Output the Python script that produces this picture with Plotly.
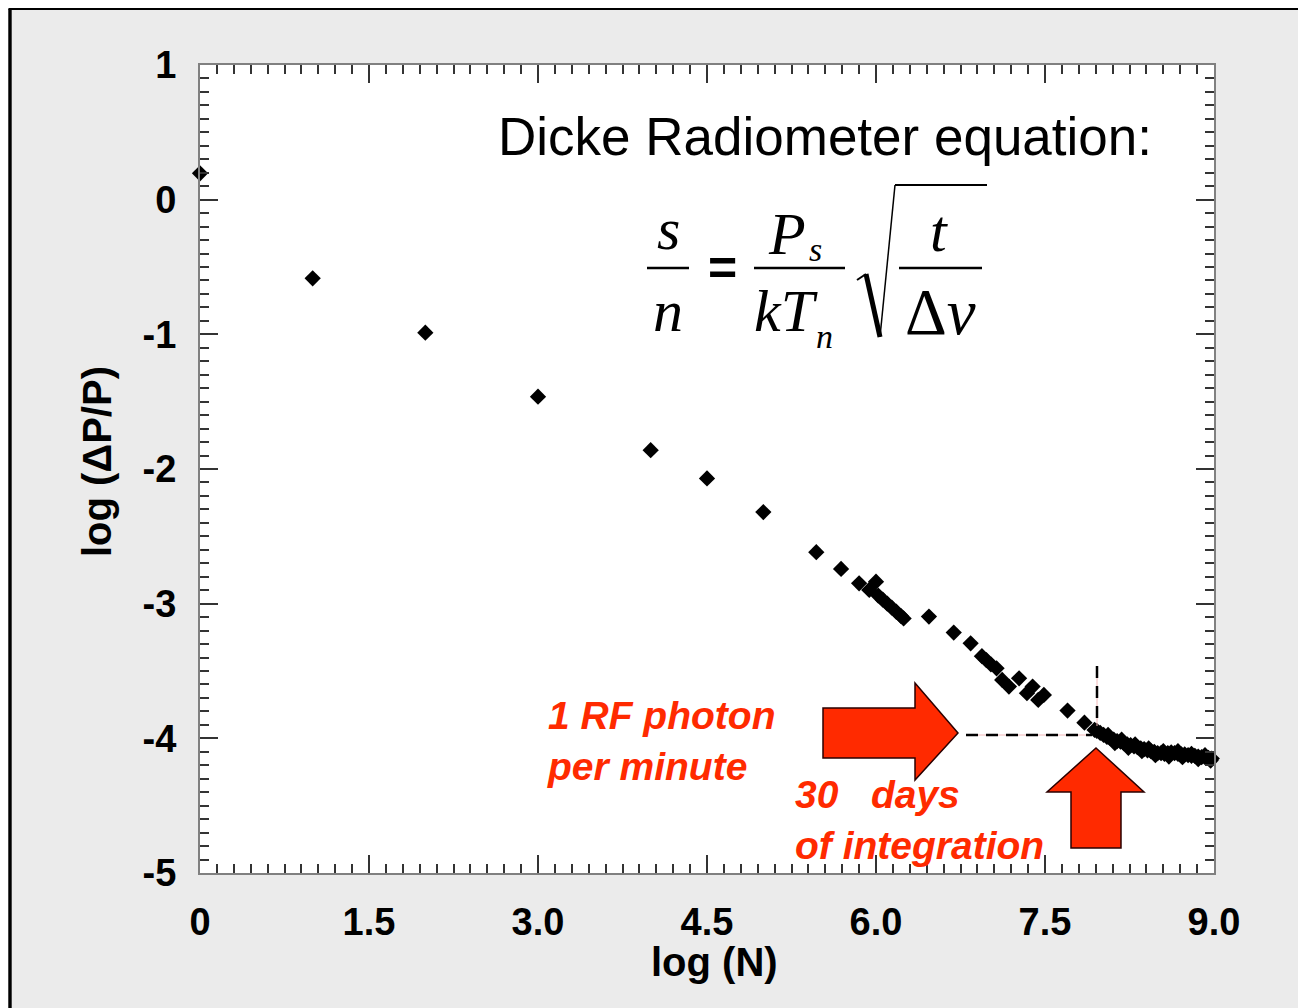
import plotly.graph_objects as go

# log10 of number of samples vs log10 of fractional power uncertainty
log_n = [
    0.0, 1.0, 2.0, 3.0, 4.0, 4.5, 5.0, 5.47, 5.69, 5.85, 5.94, 6.0,
    6.02, 6.06, 6.10, 6.14, 6.18, 6.22, 6.245,
    6.47, 6.69, 6.84,
    6.94, 6.98, 7.02, 7.07, 7.12, 7.18, 7.27, 7.34, 7.39, 7.44, 7.49,
    7.70, 7.85, 7.94,
    7.96, 7.99, 8.02, 8.05, 8.08, 8.11, 8.14, 8.17, 8.20, 8.23, 8.26,
    8.29, 8.32, 8.35, 8.38, 8.41, 8.44, 8.47, 8.50, 8.53, 8.56, 8.59,
    8.62, 8.65, 8.68, 8.71, 8.74, 8.77, 8.80, 8.83, 8.86, 8.89, 8.92,
    8.95, 8.98,
    8.06, 8.18, 8.30, 8.42, 8.55, 8.68, 8.80, 8.92,
    8.12, 8.24, 8.36, 8.48, 8.60, 8.72, 8.86, 8.97,
]
log_dp = [
    0.196, -0.584, -0.988, -1.463, -1.86, -2.07, -2.32, -2.618, -2.742,
    -2.849, -2.898, -2.837,
    -2.94, -2.97, -3.00, -3.03, -3.06, -3.09, -3.11,
    -3.096, -3.215, -3.294,
    -3.39, -3.42, -3.45, -3.48, -3.566, -3.616, -3.554, -3.665, -3.616,
    -3.715, -3.678,
    -3.794, -3.884, -3.938,
    -3.945, -3.96, -3.975, -3.99, -4.00, -4.01, -4.02, -4.025, -4.035,
    -4.045, -4.05, -4.06, -4.065, -4.075, -4.08, -4.09, -4.095, -4.10,
    -4.11, -4.11, -4.115, -4.11, -4.105, -4.11, -4.115, -4.12, -4.12,
    -4.125, -4.13, -4.13, -4.135, -4.14, -4.14, -4.145, -4.15,
    -3.975, -4.01, -4.045, -4.075, -4.095, -4.095, -4.115, -4.125,
    -4.035, -4.07, -4.095, -4.125, -4.135, -4.14, -4.155, -4.165,
]

x_tickvals = [0, 1.5, 3.0, 4.5, 6.0, 7.5, 9.0]
x_ticktext = ['0', '1.5', '3.0', '4.5', '6.0', '7.5', '9.0']
y_tickvals = [-5, -4, -3, -2, -1, 0, 1]
y_ticktext = ['-5', '-4', '-3', '-2', '-1', '0', '1']

SANS = 'Liberation Sans'
SERIF = 'Liberation Serif'
RED = '#ff2a00'

# plot area in page pixels; the page body adds an 8px margin around the figure
PL, PR, PT, PB = 200, 1214, 65, 873
W, H = 1306, 1008
OFF = 8


def pxx(px):
    return (px - PL) / (PR - PL)


def pxy(py):
    return (PB - py) / (PB - PT)


def text(t, x, y, size, family=SANS, color='black', weight='normal',
         style='normal', xanchor='center', angle=0):
    return dict(
        text=t, x=pxx(x), y=pxy(y), xref='paper', yref='paper',
        xanchor=xanchor, yanchor='middle', showarrow=False, textangle=angle,
        align='left' if xanchor == 'left' else 'center',
        font=dict(family=family, size=size, color=color, weight=weight,
                  style=style),
    )


def seg(x0, y0, x1, y1, width=2.5, color='black', dash='solid'):
    return dict(
        type='line', xref='paper', yref='paper',
        x0=pxx(x0), y0=pxy(y0), x1=pxx(x1), y1=pxy(y1),
        line=dict(color=color, width=width, dash=dash), layer='above',
    )


def poly(points, fill=RED):
    path = 'M ' + ' L '.join(f'{pxx(a):.5f},{pxy(b):.5f}' for a, b in points)
    return dict(
        type='path', xref='paper', yref='paper', path=path + ' Z',
        fillcolor=fill, line=dict(color='#2a0000', width=1.5), layer='above',
    )


fig = go.Figure()
fig.add_trace(go.Scatter(
    x=log_n, y=log_dp, mode='markers', cliponaxis=False,
    marker=dict(symbol='diamond', size=12.5, color='black', line_width=0),
    showlegend=False,
))

axis_common = dict(
    showgrid=False, zeroline=False, showline=True, linecolor='#808080',
    linewidth=2, mirror='allticks', ticks='inside', ticklen=18, tickwidth=1.5,
    tickcolor='#333333', ticklabelstandoff=14,
    tickfont=dict(family=SANS, size=38, color='black', weight='bold'),
)

fig.update_xaxes(
    range=[0, 9], tickvals=x_tickvals, ticktext=x_ticktext,
    minor=dict(dtick=0.15, tick0=0, ticks='inside', ticklen=9,
               tickwidth=1.5, tickcolor='#333333'),
    **axis_common,
)
fig.update_yaxes(
    range=[-5, 1], tickvals=y_tickvals, ticktext=y_ticktext,
    minor=dict(dtick=0.1, tick0=0, ticks='inside', ticklen=9,
               tickwidth=1.5, tickcolor='#333333'),
    **axis_common,
)

annotations = [
    text('log (N)', 714, 962, 40, weight='bold'),
    text('log (\u0394P/P)', 97, 462, 40, weight='bold', angle=-90),
    text('Dicke Radiometer equation:', 825, 137, 53),
    # equation
    text('s', 668, 229, 60, family=SERIF, style='italic'),
    text('n', 668, 311, 60, family=SERIF, style='italic'),
    text('=', 722, 268, 50, weight='bold'),
    text('P', 787, 234, 60, family=SERIF, style='italic'),
    text('s', 815, 250, 34, family=SERIF, style='italic'),
    text('kT', 786, 311, 60, family=SERIF, style='italic'),
    text('n', 824, 336, 34, family=SERIF, style='italic'),
    text('t', 939, 231, 60, family=SERIF, style='italic'),
    text('\u0394<i>\u03bd</i>', 940, 312, 65, family=SERIF),
    # red labels
    text('1 RF photon<br>per minute', 545, 741, 39, color=RED,
         weight='bold', style='italic', xanchor='left'),
    text('30\u00a0\u00a0\u00a0days<br>of integration', 793, 820, 39,
         color=RED, weight='bold', style='italic', xanchor='left'),
]

shapes = [
    # page frame
    seg(10, 9, 10, H + 5, width=3.4),
    seg(8.5, 9, W + 5, 9, width=2),
    # fraction bars and radical
    seg(647, 268, 689, 268),
    seg(754, 268, 845, 268),
    seg(899, 268, 982, 268),
    seg(857, 280, 866, 274, width=2),
    seg(866, 274, 880, 337, width=5),
    seg(880, 337, 895, 185, width=1.5),
    seg(895, 185, 987, 185, width=2),
    # dashed guide lines
    seg(966, 735, 1092, 735, width=1, color='#f2b8b8'),
    seg(966, 735, 1092, 735, width=2.5, dash='12px,8px'),
    seg(1097, 666, 1097, 735, width=1, color='#f2b8b8'),
    seg(1097, 666, 1097, 735, width=2.5, dash='12px,8px'),
    # arrows
    poly([(823, 708), (915, 708), (915, 683), (958, 733), (915, 780),
          (915, 758), (823, 758)]),
    poly([(1096, 748), (1144, 792), (1121, 792), (1121, 848), (1071, 848),
          (1071, 792), (1047, 792)]),
]

fig.update_layout(
    width=W - OFF, height=H - OFF, autosize=False,
    margin=dict(l=PL - OFF, r=W - PR, t=PT - OFF, b=H - PB, pad=0),
    paper_bgcolor='#ebebeb', plot_bgcolor='white',
    annotations=annotations, shapes=shapes,
)

fig.write_html('out.html')
